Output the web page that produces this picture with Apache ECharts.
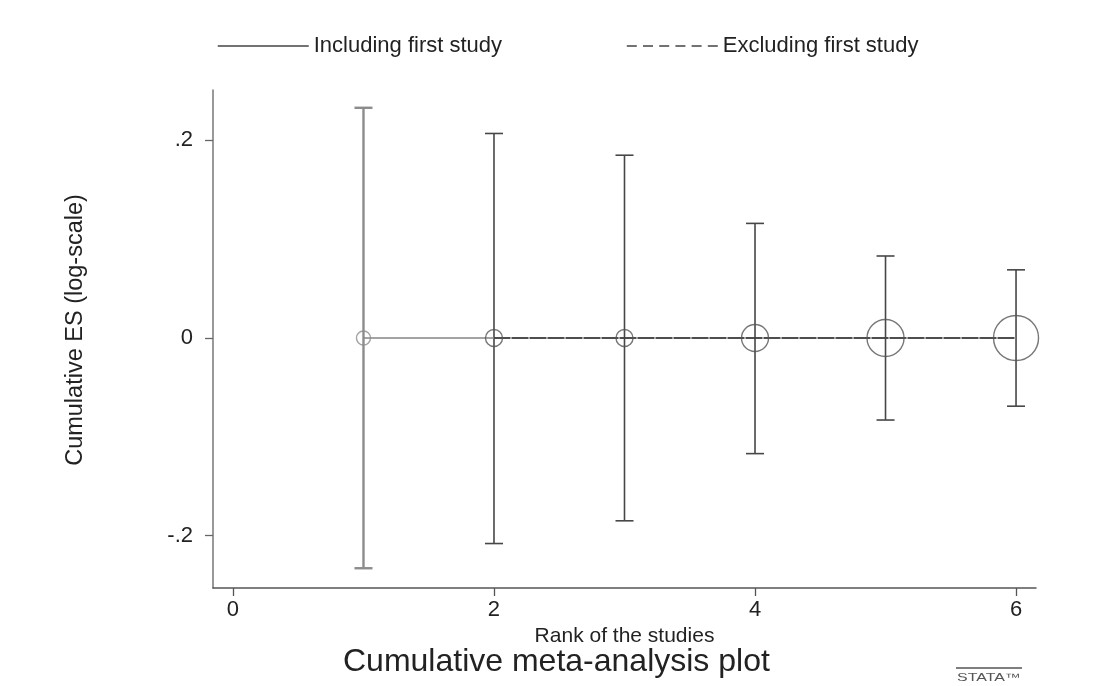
<!DOCTYPE html>
<html>
<head>
<meta charset="utf-8">
<title>Cumulative meta-analysis plot</title>
<script src="https://cdn.jsdelivr.net/npm/echarts@6/dist/echarts.min.js"></script>
<style>
  html, body { margin: 0; padding: 0; background: #ffffff; }
  #chart { width: 1105px; height: 686px; }
</style>
</head>
<body>
<div id="chart"></div>
<script>
// Cumulative effect sizes (log scale) by study rank, with 95% CI bounds
const studyRank = [1, 2, 3, 4, 5, 6];
const cumulativeES = [0, 0, 0, 0, 0, 0];
const ciLower = [-0.233, -0.208, -0.185, -0.117, -0.083, -0.069];
const ciUpper = [0.233, 0.207, 0.185, 0.116, 0.083, 0.069];
// Relative cumulative weights (marker area)
const weights = [9.7, 14.3, 14.3, 36, 67.6, 100];

// Cumulative estimates when the first study is left out
const excludingRank = [2, 3, 4, 5, 6];
const excludingES = [0, 0, 0, 0, 0];

const xTickValues = [0, 2, 4, 6];
const yTickValues = [-0.2, 0, 0.2];

const FONT = '"Liberation Sans", Arial, Helvetica, sans-serif';
const TEXT = '#222222';

function stataNum(v) {
  // Stata style: drop the leading zero (".2", "-.2")
  return String(v).replace('0.', '.');
}

const chart = echarts.init(document.getElementById('chart'), null, { renderer: 'canvas' });

const option = {
  backgroundColor: '#ffffff',
  animation: false,
  textStyle: { fontFamily: FONT, color: TEXT },
  title: {
    text: 'Cumulative meta-analysis plot',
    left: 343,
    top: 646,
    padding: 0,
    textStyle: { fontFamily: FONT, fontSize: 32, fontWeight: 'normal', color: TEXT }
  },
  legend: {
    data: [
      {
        name: 'Including first study',
        itemStyle: { opacity: 0 },
        lineStyle: { color: '#444444', width: 1.5, type: 'solid' }
      },
      {
        name: 'Excluding first study',
        itemStyle: { opacity: 0 },
        lineStyle: { color: '#444444', width: 1.5, type: [10, 6.2] }
      }
    ],
    left: 217,
    top: 35,
    padding: 0,
    itemWidth: 91,
    itemHeight: 14,
    itemGap: 124,
    selectedMode: false,
    itemStyle: { opacity: 0 },
    textStyle: { fontFamily: FONT, fontSize: 22, color: TEXT }
  },
  grid: {
    left: 213,
    right: 69,
    top: 90,
    bottom: 98,
    containLabel: false
  },
  xAxis: {
    type: 'value',
    min: -0.153,
    max: 6.153,
    name: 'Rank of the studies',
    nameLocation: 'middle',
    nameGap: 38,
    nameTextStyle: { fontFamily: FONT, fontSize: 21, color: TEXT },
    axisLine: { show: true, onZero: false, lineStyle: { color: '#555555', width: 1.5 } },
    axisTick: {
      show: true, length: 8, customValues: xTickValues,
      lineStyle: { color: '#555555', width: 1.3 }
    },
    axisLabel: {
      show: true, margin: 11, customValues: xTickValues,
      fontFamily: FONT, fontSize: 22, color: TEXT,
      formatter: stataNum
    },
    splitLine: { show: false }
  },
  yAxis: {
    type: 'value',
    min: -0.253,
    max: 0.251,
    name: 'Cumulative ES (log-scale)',
    nameLocation: 'middle',
    nameGap: 125,
    nameRotate: 90,
    nameTextStyle: { fontFamily: FONT, fontSize: 23.5, color: TEXT, padding: [0, 0, 0, 18] },
    axisLine: { show: true, onZero: false, lineStyle: { color: '#777777', width: 1.5 } },
    axisTick: {
      show: true, length: 8, customValues: yTickValues,
      lineStyle: { color: '#666666', width: 1.3 }
    },
    axisLabel: {
      show: true, margin: 20, customValues: yTickValues,
      fontFamily: FONT, fontSize: 22, color: TEXT,
      formatter: stataNum
    },
    splitLine: { show: false }
  },
  series: [
    {
      name: 'Including first study',
      type: 'line',
      symbol: 'none',
      data: studyRank.map((r, i) => [r, cumulativeES[i]]),
      lineStyle: { color: '#858585', width: 1.5, type: 'solid' },
      itemStyle: { color: '#555555' },
      z: 3
    },
    {
      name: 'Excluding first study',
      type: 'line',
      symbol: 'none',
      data: excludingRank.map((r, i) => [r, excludingES[i]]),
      lineStyle: { color: '#333333', width: 1.5, type: [16, 2] },
      itemStyle: { color: '#444444' },
      z: 4
    },
    {
      name: 'CI',
      type: 'custom',
      data: studyRank.map((r, i) => [r, ciLower[i], ciUpper[i]]),
      renderItem: function (params, api) {
        const x = api.value(0);
        const lo = api.coord([x, api.value(1)]);
        const hi = api.coord([x, api.value(2)]);
        const half = 9;
        const first = params.dataIndex === 0;
        const style = {
          stroke: first ? '#8c8c8c' : '#474747',
          lineWidth: first ? 2.4 : 1.6,
          fill: null
        };
        return {
          type: 'group',
          children: [
            { type: 'line', shape: { x1: lo[0], y1: lo[1], x2: hi[0], y2: hi[1] }, style: style },
            { type: 'line', shape: { x1: hi[0] - half, y1: hi[1], x2: hi[0] + half, y2: hi[1] }, style: style },
            { type: 'line', shape: { x1: lo[0] - half, y1: lo[1], x2: lo[0] + half, y2: lo[1] }, style: style }
          ]
        };
      },
      z: 2
    },
    {
      name: 'Weight',
      type: 'scatter',
      symbol: 'circle',
      data: studyRank.map((r, i) => ({
        value: [r, cumulativeES[i], weights[i]],
        itemStyle: i === 0 ? { borderColor: '#8c8c8c' } : undefined
      })),
      symbolSize: function (v) { return 4.5 * Math.sqrt(v[2]); },
      itemStyle: { color: 'rgba(0,0,0,0)', borderColor: '#555555', borderWidth: 1.4 },
      emphasis: { disabled: true },
      z: 5
    }
  ],
  graphic: [
    {
      type: 'line',
      shape: { x1: 956, y1: 668, x2: 1022, y2: 668 },
      style: { stroke: '#555555', lineWidth: 1.5 }
    },
    {
      type: 'text',
      x: 957,
      y: 672,
      scaleX: 1.45,
      style: {
        text: 'STATA™',
        fontFamily: FONT,
        fontSize: 11,
        fill: '#555555'
      }
    }
  ]
};

chart.setOption(option);
</script>
</body>
</html>
